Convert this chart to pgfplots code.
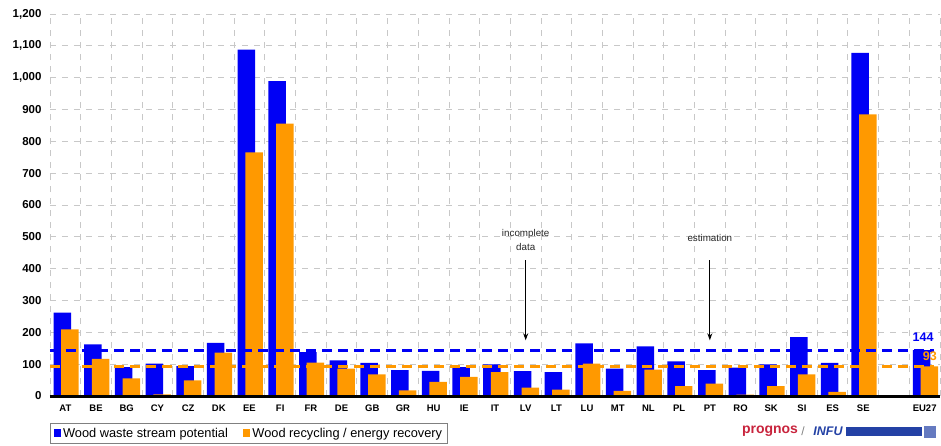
\documentclass[border=0pt]{standalone}
\usepackage{fontspec}
\setmainfont{Liberation Sans}
\usepackage{pgfplots}
\usepackage{pgfplotstable}
\pgfplotsset{compat=1.18}
\usetikzlibrary{arrows.meta}

\definecolor{wblue}{RGB}{0,0,245}
\definecolor{worange}{RGB}{255,153,0}
\definecolor{gridgray}{RGB}{200,200,200}
\definecolor{prognosred}{RGB}{200,35,60}
\definecolor{infublue}{RGB}{35,65,165}

% wood waste stream potential (pot) and recycling / energy recovery (rec)
\pgfplotstableread{
x  pot   rec
0  262   209
1  162   117
2  91    55
3  102   5
4  94    49
5  167   136
6  1088  765
7  989   856
8  138   105
9  112   86
10 104   68
11 81    18
12 79    44
13 91    60
14 99    75
15 78    26
16 75    20
17 165   102
18 86    16
19 156   83
20 109   31
21 81    39
22 89    4
23 99    31
24 185   68
25 104   13
26 1078  885
28 144   93
}\wooddata

\begin{document}
\begin{tikzpicture}
\useasboundingbox (-50pt,-49pt) rectangle (891pt,396pt);
\begin{axis}[
  scale only axis,
  width=890pt, height=382pt,
  xmin=-0.5, xmax=28.5, ymin=0, ymax=1200,
  axis line style={draw=none},
  major tick length=0pt, minor tick length=0pt,
  xtick={0,...,26,28},
  xticklabels={AT,BE,BG,CY,CZ,DK,EE,FI,FR,DE,GB,GR,HU,IE,IT,LV,LT,LU,MT,NL,PL,PT,RO,SK,SI,ES,SE,EU27},
  minor xtick={-0.5,0.5,...,28.5},
  ytick={0,100,...,1200},
  xminorgrids=true, ymajorgrids=true, xmajorgrids=false,
  grid style={gridgray, line width=0.9pt, dash pattern=on 6pt off 6pt},
  minor grid style={gridgray, line width=0.9pt, dash pattern=on 6pt off 6pt},
  yticklabel style={font=\fontsize{11.5}{12}\selectfont\bfseries, xshift=-5pt},
  xticklabel style={font=\fontsize{9.5}{10}\selectfont\bfseries, yshift=-5pt},
  /pgf/number format/1000 sep={,},
  /pgf/number format/assume math mode=true,
  clip=false,
  legend style={at={(axis description cs:0,-0.0707)}, anchor=north west,
    draw=gray, line width=1.2pt, inner xsep=3pt, inner ysep=2.5pt,
    font=\fontsize{12.8}{14}\selectfont, legend columns=2,
    /tikz/every even column/.append style={column sep=13pt}},
  legend image code/.code={\fill[#1] (0pt,-4pt) rectangle (7.5pt,4pt);},
]
\addplot[ybar, bar width=0.57, bar shift=-0.1, fill=wblue, draw=none]
  table[x=x, y=pot] {\wooddata};
\addlegendentry{Wood waste stream potential}
\addplot[ybar, bar width=0.57, bar shift=0.15, fill=worange, draw=none]
  table[x=x, y=rec] {\wooddata};
\addlegendentry{Wood recycling / energy recovery}

% EU27 averages as reference lines
\addplot[wblue, line width=3pt, dash pattern=on 10pt off 6pt, forget plot]
  coordinates {(-0.5,144) (28.3,144)};
\addplot[worange, line width=3pt, dash pattern=on 10pt off 6pt, forget plot]
  coordinates {(-0.5,93) (28.3,93)};

% zero line
\draw[black, line width=3pt] (axis cs:-0.5,0) -- (axis cs:28.5,0);

\node[wblue, font=\fontsize{12.5}{12}\selectfont\bfseries] at (axis cs:27.95,186) {144};
\node[worange, font=\fontsize{12.5}{12}\selectfont\bfseries] at (axis cs:28.17,125) {93};

% notes
\node[align=center, font=\fontsize{9.8}{13.5}\selectfont, text=black!85] at (axis cs:15,490) {incomplete\\data};
\draw[-{Stealth[length=7pt,width=5pt]}, line width=1pt] (axis cs:15,426) -- (axis cs:15,175);
\node[font=\fontsize{9.8}{13}\selectfont, text=black!85] at (axis cs:21,497) {estimation};
\draw[-{Stealth[length=7pt,width=5pt]}, line width=1pt] (axis cs:21,426) -- (axis cs:21,175);
\end{axis}

% source logos
\node[prognosred, font=\fontsize{14}{14}\selectfont\bfseries, anchor=center] at (720pt,-35pt) {prognos};
\node[gray, font=\fontsize{12}{12}\selectfont] at (753pt,-35pt) {/};
\node[infublue, font=\fontsize{12.5}{12}\selectfont\bfseries\itshape] at (778pt,-35pt) {INFU};
\fill[infublue] (796pt,-31pt) rectangle (872pt,-40pt);
\fill[infublue!70] (874pt,-30pt) rectangle (886pt,-42pt);
\end{tikzpicture}
\end{document}
